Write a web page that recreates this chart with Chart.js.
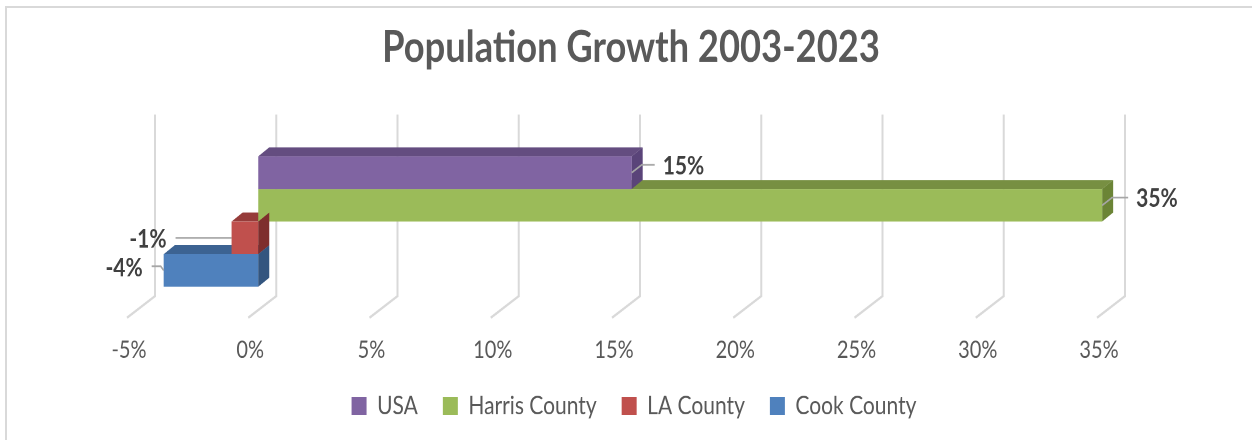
<!DOCTYPE html>
<html>
<head>
<meta charset="utf-8">
<script src="https://cdn.jsdelivr.net/npm/chart.js@4.4.1/dist/chart.umd.min.js"></script>
<style>
  body { margin: 0; background: #fff; overflow: hidden; }
  #frame { position: absolute; left: 5px; top: 6px; width: 1400px; height: 600px; border: 2px solid #d9d9d9; }
  #wrap { position: absolute; left: 0; top: 0; width: 1252px; height: 367px; transform: scaleY(1.199); transform-origin: 0 0; }
</style>
</head>
<body>
<div id="frame"></div>
<div id="wrap"><canvas id="chart" width="1252" height="367"></canvas></div>
<script>
// data
const categories = ['2003-2023'];
const seriesNames = ['USA', 'Harris County', 'LA County', 'Cook County'];
const usaValues = [15.4];
const harrisValues = [34.8];
const laValues = [-1.1];
const cookValues = [-3.9];
const tickMin = -5, tickMax = 35, tickStep = 5;

// looks
const frontColors = ['#8064a2', '#9bbb59', '#c0504d', '#4f81bd'];
const topColors = ['#644d80', '#778f42', '#963c3a', '#3c6392'];
const sideColors = ['#5a4479', '#6b8436', '#7e2e2d', '#33557f'];
const leaderLen = [13, 16, 56, 12];
const depthX = 11, depthY = 7.5;

function barBox(chart, i){
    const el = chart.getDatasetMeta(i).data[0];
    const p = el.getProps(['x','y','base','height'], true);
    return {
        left: Math.min(p.x, p.base), right: Math.max(p.x, p.base),
        top: p.y - p.height/2, bottom: p.y + p.height/2,
        cy: p.y, neg: p.x < p.base
    };
}

function poly(ctx, pts, color){
    ctx.fillStyle = color;
    ctx.beginPath();
    ctx.moveTo(pts[0][0], pts[0][1]);
    for(let k = 1; k < pts.length; k++) ctx.lineTo(pts[k][0], pts[k][1]);
    ctx.closePath();
    ctx.fill();
}

function drawSide(ctx, b, i){
    const x = b.right;
    poly(ctx, [[x, b.top], [x+depthX, b.top-depthY], [x+depthX, b.bottom-depthY], [x, b.bottom]], sideColors[i]);
}

const bars3d = {
    id: 'bars3d',
    afterLayout(chart){
        // legend and title sit a little right of centre in the original
        chart.legend.left += 12; chart.legend.right += 12;
        chart.titleBlock.left += 9; chart.titleBlock.right += 9;
    },
    beforeDatasetsDraw(chart){
        const ctx = chart.ctx, xs = chart.scales.x, area = chart.chartArea;
        ctx.save();
        // back wall + floor lines
        ctx.strokeStyle = '#d9d9d9';
        ctx.lineWidth = 2;
        xs.ticks.forEach(t => {
            const fx = xs.getPixelForValue(t.value) - 10;
            ctx.beginPath();
            ctx.moveTo(fx + 28, area.top - 9);
            ctx.lineTo(fx + 28, area.bottom - 18);
            ctx.lineTo(fx, area.bottom);
            ctx.stroke();
        });
        // top faces and right sides, bottom bar first
        for(let i = chart.data.datasets.length - 1; i >= 0; i--){
            const b = barBox(chart, i);
            poly(ctx, [[b.left, b.top], [b.right, b.top], [b.right+depthX, b.top-depthY], [b.left+depthX, b.top-depthY]], topColors[i]);
            if(!b.neg) drawSide(ctx, b, i);
        }
        ctx.restore();
    },
    afterDatasetsDraw(chart){
        const ctx = chart.ctx;
        ctx.save();
        chart.data.datasets.forEach((ds, i) => {
            const b = barBox(chart, i);
            if(b.neg) drawSide(ctx, b, i);
        });
        // data labels with leader lines
        ctx.font = 'bold 21px Lato';
        ctx.fillStyle = '#404040';
        ctx.strokeStyle = '#a6a6a6';
        ctx.lineWidth = 1.5;
        ctx.textBaseline = 'middle';
        chart.data.datasets.forEach((ds, i) => {
            const b = barBox(chart, i);
            const txt = Math.round(ds.data[0]) + '%';
            ctx.beginPath();
            if(!b.neg){
                const y = b.cy - 6.5;
                ctx.moveTo(b.right, b.cy);
                ctx.lineTo(b.right + 10, y);
                ctx.lineTo(b.right + 10 + leaderLen[i], y);
                ctx.stroke();
                ctx.textAlign = 'left';
                ctx.fillText(txt, b.right + 18 + leaderLen[i], y + 1);
            } else {
                let y = b.cy;
                ctx.moveTo(b.left, b.cy);
                if(i == 3){ y = b.cy - 3.5; ctx.lineTo(b.left - 3, y); }
                ctx.lineTo(b.left - leaderLen[i], y);
                ctx.stroke();
                ctx.textAlign = 'right';
                ctx.fillText(txt, b.left - leaderLen[i] - 9, y + 1.5);
            }
        });
        ctx.restore();
    }
};

const allValues = [usaValues, harrisValues, laValues, cookValues];

new Chart(document.getElementById('chart').getContext('2d'), {
    type: 'bar',
    data: {
        labels: categories,
        datasets: seriesNames.map((n, i) => ({
            label: n,
            data: allValues[i],
            backgroundColor: frontColors[i],
            borderWidth: 0,
            categoryPercentage: 0.6775,
            barPercentage: 1
        }))
    },
    options: {
        indexAxis: 'y',
        responsive: false,
        animation: false,
        devicePixelRatio: 2,
        layout: { padding: { left: 137, right: 145, top: 0, bottom: 8 } },
        scales: {
            x: {
                type: 'linear', min: tickMin, max: tickMax,
                grid: { display: false, drawTicks: false },
                border: { display: false },
                ticks: {
                    stepSize: tickStep,
                    callback: v => v + '%',
                    font: { family: 'Lato', size: 20 },
                    color: '#595959',
                    padding: 15,
                    labelOffset: -8
                },
                afterFit(scale){ scale.height = 38; }
            },
            y: { display: false }
        },
        plugins: {
            title: {
                display: true,
                text: 'Population Growth 2003-2023',
                color: '#595959',
                font: { family: 'Lato', size: 36.3, weight: 'bold' },
                padding: { top: 18, bottom: 43 }
            },
            legend: {
                position: 'bottom',
                labels: {
                    boxWidth: 15, boxHeight: 15,
                    font: { family: 'Lato', size: 21 },
                    color: '#595959',
                    padding: 25
                }
            },
            tooltip: { enabled: false }
        }
    },
    plugins: [bars3d]
});
</script>
</body>
</html>
